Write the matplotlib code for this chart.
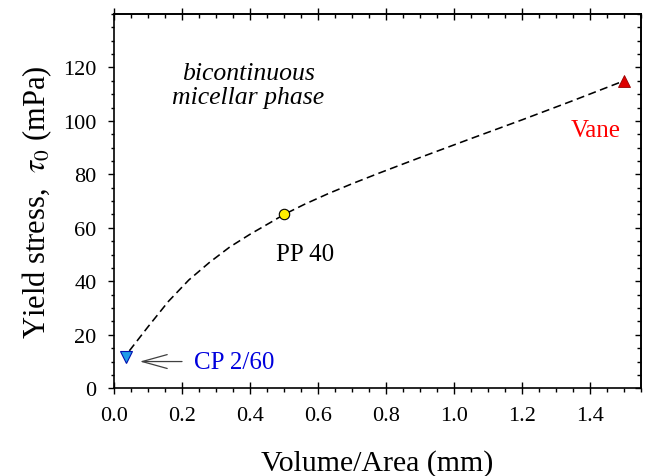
import matplotlib
matplotlib.use("Agg")
import matplotlib.pyplot as plt
from matplotlib.ticker import MultipleLocator, FixedLocator, FormatStrFormatter

# ---- data ----
cp_x, cp_y = [0.035], [11.6]          # CP 2/60
pp_x, pp_y = [0.5], [65.0]            # PP 40
vane_x, vane_y = [1.5], [115.0]       # Vane

# dashed guide curve
curve_x = [0.045, 0.10, 0.16, 0.22, 0.28, 0.34, 0.40, 0.46, 0.50,
           0.56, 0.63, 0.70, 0.78, 0.90, 1.05, 1.20, 1.35, 1.50]
curve_y = [14.0, 23.0, 32.5, 40.5, 47.0, 52.8, 57.6, 62.0, 65.0,
           68.8, 72.8, 76.5, 80.5, 86.3, 93.4, 100.4, 107.6, 115.0]

xticks = [0.0, 0.2, 0.4, 0.6, 0.8, 1.0, 1.2, 1.4]
yticks = [0, 20, 40, 60, 80, 100, 120]
xlim = (0.0, 1.55)
ylim = (0.0, 140.0)

plt.rcParams['font.family'] = ['Liberation Serif', 'DejaVu Serif']
plt.rcParams['mathtext.fontset'] = 'stix'

fig = plt.figure(figsize=(6.46, 4.77), dpi=100)
ax = fig.add_axes([0.1765, 0.1839, 0.9923 - 0.1765, 0.9686 - 0.1839])

ax.plot(curve_x, curve_y, color='black', lw=1.15, dashes=(5.0, 2.8), zorder=2)
ax.plot(cp_x, cp_y, marker='v', ms=8, mfc='#1e9be8', mec='#0010b0', mew=0.8,
        ls='none', zorder=3)
ax.plot(pp_x, pp_y, marker='o', ms=7.5, mfc='#ffee00', mec='black', mew=0.8,
        ls='none', zorder=3)
ax.plot(vane_x, vane_y, marker='^', ms=8, mfc='#dd0000', mec='#990000', mew=0.6,
        ls='none', zorder=3)

ax.set_xlim(*xlim)
ax.set_ylim(*ylim)

ax.xaxis.set_major_locator(FixedLocator(xticks))
ax.xaxis.set_minor_locator(MultipleLocator(0.05))
ax.yaxis.set_major_locator(FixedLocator(yticks))
ax.yaxis.set_minor_locator(MultipleLocator(5))
ax.xaxis.set_major_formatter(FormatStrFormatter('%.1f'))

for s in ax.spines.values():
    s.set_linewidth(1.2)

ax.tick_params(axis='x', which='major', direction='inout', length=8, width=1.0,
               labelsize=16, pad=9)
ax.tick_params(axis='x', which='minor', direction='out', length=3, width=1.0)
ax.tick_params(axis='y', which='major', direction='out', length=4.5, width=1.0,
               labelsize=16, pad=8)
ax.tick_params(axis='y', which='minor', direction='out', length=2.5, width=1.0)

secx = ax.secondary_xaxis('top')
secx.xaxis.set_major_locator(FixedLocator(xticks))
secx.xaxis.set_minor_locator(MultipleLocator(0.05))
secx.tick_params(which='major', direction='inout', length=8, width=1.0, labeltop=False)
secx.tick_params(which='minor', direction='in', length=3, width=1.0)
secx.spines['top'].set_linewidth(1.2)

secy = ax.secondary_yaxis('right')
secy.yaxis.set_major_locator(FixedLocator(yticks))
secy.yaxis.set_minor_locator(MultipleLocator(5))
secy.tick_params(which='major', direction='in', length=4.5, width=1.0, labelright=False)
secy.tick_params(which='minor', direction='in', length=3, width=1.0)
secy.spines['right'].set_linewidth(1.2)

ax.set_xlabel('Volume/Area (mm)', fontsize=21.5, labelpad=17)
ax.set_ylabel('Yield stress,  $\\tau_0$ (mPa)', fontsize=22, labelpad=7)

ax.text(0.395, 113.5, 'bicontinuous\nmicellar phase', fontsize=18.5, style='italic',
        ha='center', va='center', multialignment='center', linespacing=1.15)
ax.text(0.562, 50.3, 'PP 40', fontsize=18, color='black', ha='center', va='center')
ax.text(1.417, 96.5, 'Vane', fontsize=18, color='#ff0000', ha='center', va='center')
ax.text(0.354, 10, 'CP 2/60', fontsize=18, color='#0000dd', ha='center', va='center')

ax.annotate('', xy=(0.076, 10), xytext=(0.2, 10),
            arrowprops=dict(arrowstyle='->,head_length=0.9,head_width=0.25',
                            color='#404040', lw=0.9, shrinkA=0, shrinkB=0,
                            mutation_scale=20))

fig.savefig('out.png', dpi=100)
